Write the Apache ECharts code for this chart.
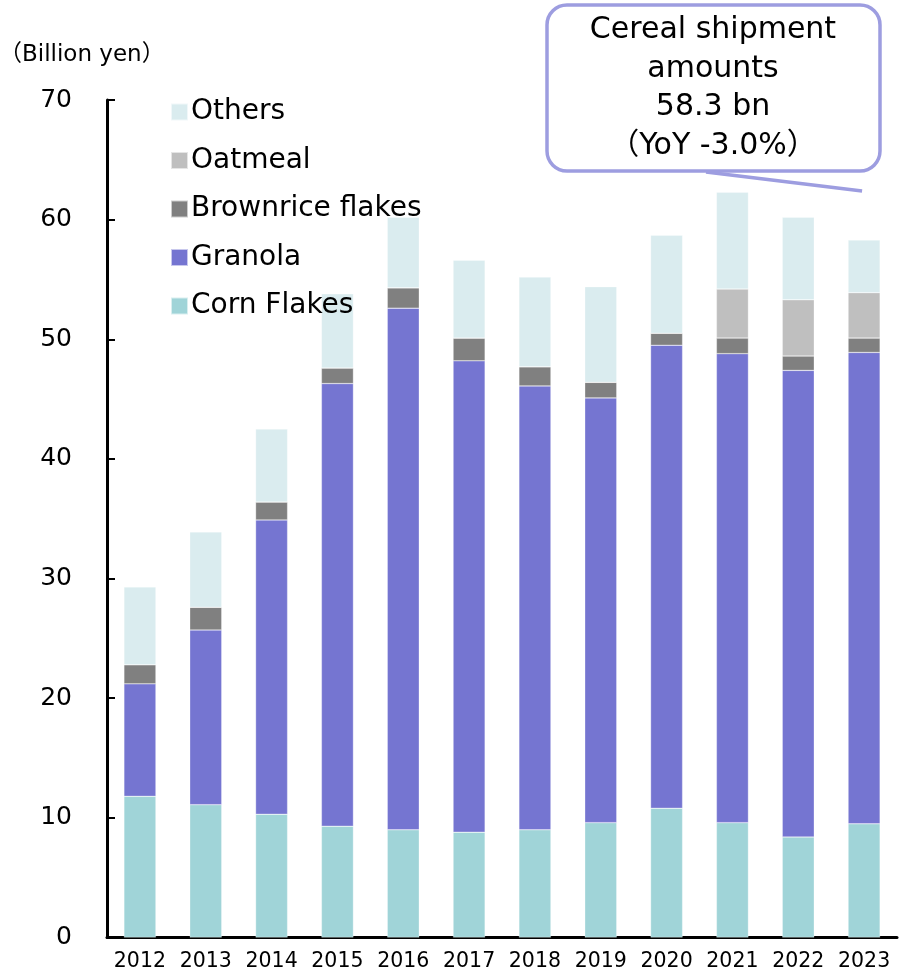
<!DOCTYPE html>
<html>
<head>
<meta charset="utf-8">
<script src="https://cdn.jsdelivr.net/npm/echarts@6/dist/echarts.min.js"></script>
<style>
  html, body { margin: 0; padding: 0; background: #fff; }
  #chart { width: 899px; height: 972px; }
</style>
</head>
<body>
<div id="chart"></div>
<script>
// Cereal shipment amounts by type (billion yen)
const years = ['2012','2013','2014','2015','2016','2017','2018','2019','2020','2021','2022','2023'];
const cornFlakes = [11.8, 11.1, 10.3, 9.3, 9.0, 8.8, 9.0, 9.6, 10.8, 9.6, 8.4, 9.5];
const granola    = [9.4, 14.6, 24.6, 37.0, 43.6, 39.4, 37.1, 35.5, 38.7, 39.2, 39.0, 39.4];
const brownrice  = [1.6, 1.9, 1.5, 1.3, 1.7, 1.9, 1.6, 1.3, 1.0, 1.3, 1.2, 1.2];
const oatmeal    = [0, 0, 0, 0, 0, 0, 0, 0, 0, 4.1, 4.7, 3.8];
const others     = [6.5, 6.3, 6.1, 6.2, 5.9, 6.5, 7.5, 8.0, 8.2, 8.1, 6.9, 4.4];
const yTicks = [0, 10, 20, 30, 40, 50, 60, 70];
const legendOrder = ['Others', 'Oatmeal', 'Brownrice flakes', 'Granola', 'Corn Flakes'];

const FONT = '"DejaVu Sans", "Noto Sans CJK JP"';
const last = years.length - 1;
const latestTotal = cornFlakes[last] + granola[last] + brownrice[last] + oatmeal[last] + others[last];

const chart = echarts.init(document.getElementById('chart'));

function bar(name, data, color) {
  return {
    name, type: 'bar', stack: 'total', data,
    barWidth: 32,
    itemStyle: { color, borderColor: 'rgba(255,255,255,0.6)', borderWidth: 0.5 },
    emphasis: { disabled: true }
  };
}

const unitLabel = {
  type: 'text', left: -1, top: 44,
  style: { text: '（Billion yen）', fontFamily: FONT, fontSize: 23, fill: '#000' }
};

chart.setOption({
  animation: false,
  backgroundColor: '#fff',
  grid: { left: 107, right: 2, top: 100, bottom: 34 },
  legend: {
    orient: 'vertical',
    left: 165, top: 92,
    data: legendOrder,
    itemWidth: 17, itemHeight: 17, itemGap: 18.5,
    icon: 'rect',
    textStyle: { fontFamily: FONT, fontSize: 28, color: '#000', lineHeight: 30, padding: [0, 0, 0, -2] }
  },
  xAxis: {
    type: 'category',
    data: years,
    boundaryGap: true,
    axisLine: { lineStyle: { color: '#000', width: 3 } },
    axisTick: { inside: true, length: 7, interval: 0, lineStyle: { color: '#000', width: 2 } },
    axisLabel: { interval: 0, fontFamily: FONT, fontSize: 20.5, color: '#000', margin: 14 }
  },
  yAxis: {
    type: 'value',
    min: yTicks[0], max: yTicks[yTicks.length - 1], interval: 10,
    splitLine: { show: false },
    axisLine: { show: true, lineStyle: { color: '#000', width: 3 } },
    axisTick: { show: true, inside: true, length: 8, lineStyle: { color: '#000', width: 2 } },
    axisLabel: { fontFamily: FONT, fontSize: 25, color: '#000', margin: 35 }
  },
  series: [
    bar('Corn Flakes', cornFlakes, '#A0D4D8'),
    bar('Granola', granola, '#7575D1'),
    bar('Brownrice flakes', brownrice, '#808080'),
    bar('Oatmeal', oatmeal, '#BFBFBF'),
    bar('Others', others, '#DAECEF')
  ],
  graphic: [unitLabel]
});

// Callout pointing at the latest bar's top
const tip = chart.convertToPixel({ xAxisIndex: 0, yAxisIndex: 0 }, [years[last], latestTotal]);
chart.setOption({
  graphic: [
    unitLabel,
    {
      type: 'line', z: 10,
      shape: { x1: 706, y1: 172, x2: tip[0] - 2, y2: tip[1] - 49 },
      style: { stroke: '#9D9DE0', lineWidth: 3.5 }
    },
    {
      type: 'rect', z: 11,
      shape: { x: 547, y: 5, width: 333, height: 166, r: 20 },
      style: { fill: '#fff', stroke: '#9D9DE0', lineWidth: 3.5 }
    },
    {
      type: 'text', z: 12,
      x: 713, y: 88,
      style: {
        text: 'Cereal shipment\namounts\n' + latestTotal.toFixed(1) + ' bn\n（YoY -3.0%）',
        fontFamily: FONT, fontSize: 30, lineHeight: 38.5, fill: '#000',
        align: 'center', verticalAlign: 'middle'
      }
    }
  ]
});
</script>
</body>
</html>
